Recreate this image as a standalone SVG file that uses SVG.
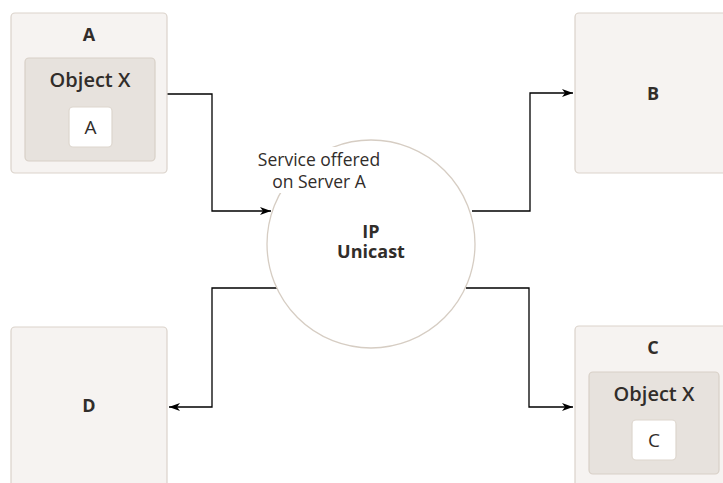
<svg xmlns="http://www.w3.org/2000/svg" width="723" height="483" viewBox="0 0 723 483">
<defs>
<style>
.box{fill:#f6f3f1;stroke:#dbd3cb;stroke-width:1.2}
.inner{fill:#e7e2dd;stroke:#d8d0c7;stroke-width:1.2}
.small{fill:#ffffff;stroke:#ddd6ce;stroke-width:1.2}
.t{font-family:"Open Sans","Noto Sans","Liberation Sans",sans-serif;fill:#312d2a;text-anchor:middle}
.title{font-size:18px;font-weight:700}
.obj{font-size:20px;font-weight:600}
.lbl{font-size:19px;font-weight:400}
.note{font-size:17.5px;font-weight:400}
.conn{fill:none;stroke:#000;stroke-width:1.3}
</style>
<marker id="arr" markerWidth="12" markerHeight="10" viewBox="0 0 12 10" refX="11" refY="5" orient="auto" markerUnits="userSpaceOnUse">
<path d="M0,1 L11,5 L0,9 L3,5 Z" fill="#000"/>
</marker>
</defs>
<rect width="723" height="483" fill="#ffffff"/>

<g id="connectors">
<path class="conn" d="M167,94 H212 V211 H271" marker-end="url(#arr)"/>
<path class="conn" d="M472,211 H530 V93 H573" marker-end="url(#arr)"/>
<path class="conn" d="M277,288 H212 V407 H169" marker-end="url(#arr)"/>
<path class="conn" d="M466,288 H529 V407 H573" marker-end="url(#arr)"/>
</g>

<g id="node-ip">
<circle cx="371" cy="244" r="104" fill="#ffffff" stroke="#d6cdc3" stroke-width="1.3"/>
<rect x="255" y="147" width="128" height="46" fill="#ffffff"/>
<text class="t note" x="319" y="165.5">Service offered</text>
<text class="t note" x="319" y="188">on Server A</text>
<text class="t title" x="371" y="238">IP</text>
<text class="t title" x="371" y="257.5">Unicast</text>
</g>

<g id="node-a">
<rect class="box" x="11" y="13" width="156" height="160" rx="4"/>
<text class="t title" x="89" y="41">A</text>
<rect class="inner" x="25" y="58" width="130" height="103" rx="4"/>
<text class="t obj" x="90" y="87">Object X</text>
<rect class="small" x="69" y="107" width="43" height="40" rx="4"/>
<text class="t lbl" x="90.5" y="134">A</text>
</g>

<g id="node-b">
<rect class="box" x="575" y="13" width="156" height="160" rx="4"/>
<text class="t title" x="653" y="99.5">B</text>
</g>

<g id="node-d">
<rect class="box" x="11" y="327" width="156" height="170" rx="4"/>
<text class="t title" x="89" y="412">D</text>
</g>

<g id="node-c">
<rect class="box" x="575" y="326" width="156" height="170" rx="4"/>
<text class="t title" x="653" y="353.5">C</text>
<rect class="inner" x="589" y="372" width="130" height="102" rx="4"/>
<text class="t obj" x="654" y="400.5">Object X</text>
<rect class="small" x="632" y="420" width="44" height="40" rx="4"/>
<text class="t lbl" x="654" y="446.5">C</text>
</g>
</svg>
